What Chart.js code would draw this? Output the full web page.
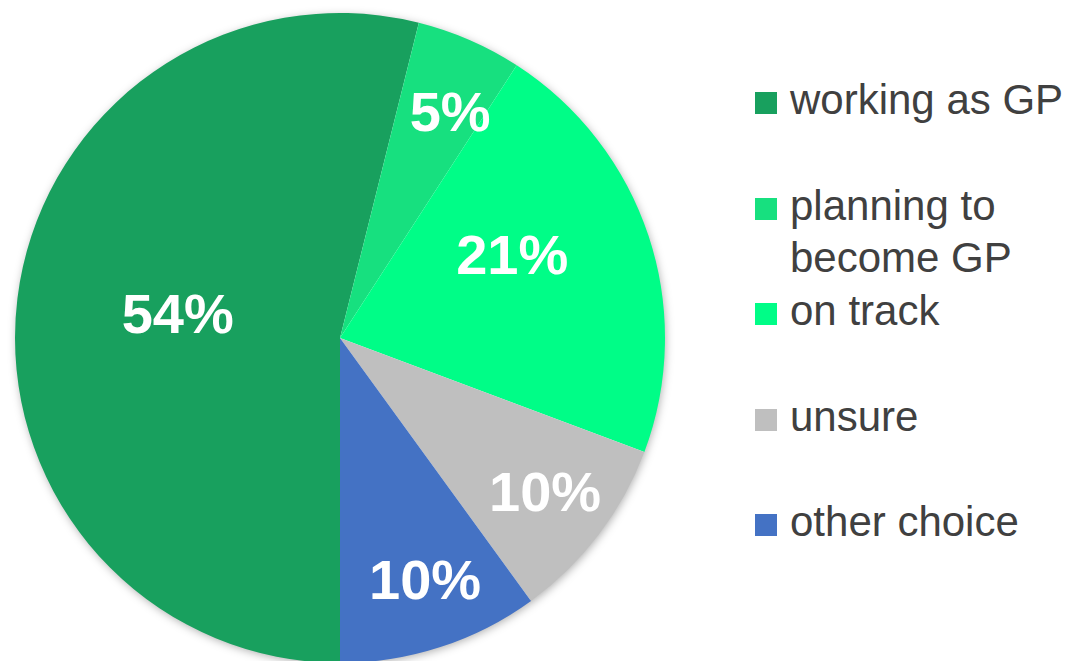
<!DOCTYPE html>
<html>
<head>
<meta charset="utf-8">
<script src="https://cdn.jsdelivr.net/npm/chart.js@4.4.1/dist/chart.umd.min.js"></script>
<style>
  html, body { margin: 0; padding: 0; background: #ffffff; overflow: hidden; width: 1088px; height: 661px; }
  #wrap { position: absolute; left: 0; top: 0; width: 680px; height: 676px; }
  #legend { position: absolute; left: 755px; top: 0; width: 330px; font-family: "Liberation Sans", Arial, sans-serif; font-size: 42px; line-height: 52.75px; color: #404040; }
  .item { position: absolute; left: 0; width: 330px; }
  .box { position: absolute; left: 0; width: 22px; height: 22px; }
  .txt { position: absolute; left: 35px; width: 285px; white-space: normal; }
</style>
</head>
<body>
<div id="wrap"><canvas id="c"></canvas></div>
<div id="legend"></div>
<script>
// ---- data ----
const categories = ['working as GP', 'planning to become GP', 'on track', 'unsure', 'other choice'];
const values = [53.9, 5.25, 21.55, 9.3, 10.0];
const valueLabels = ['54%', '5%', '21%', '10%', '10%'];
const colors = ['#18A05E', '#17E07F', '#00FD87', '#BFBFBF', '#4472C4'];

// legend rows: line index (52.75px per line) for each item
const legendLineIndex = [0, 2, 4, 6, 8];

const shadowPlugin = {
  id: 'pieShadow',
  beforeDatasetsDraw(chart) {
    const arc = chart.getDatasetMeta(0).data[0];
    if (!arc) return;
    const ctx = chart.ctx;
    ctx.save();
    ctx.shadowColor = 'rgba(0,0,0,0.35)';
    ctx.shadowBlur = 10;
    ctx.shadowOffsetX = 1;
    ctx.shadowOffsetY = 2;
    ctx.fillStyle = '#ffffff';
    ctx.beginPath();
    ctx.arc(arc.x, arc.y, arc.outerRadius - 1, 0, Math.PI * 2);
    ctx.fill();
    ctx.restore();
  }
};

const labelPlugin = {
  id: 'sliceLabels',
  afterDatasetsDraw(chart, args, opts) {
    const ctx = chart.ctx;
    const meta = chart.getDatasetMeta(0);
    ctx.save();
    ctx.font = 'bold 56px "Liberation Sans", Arial, sans-serif';
    ctx.fillStyle = '#ffffff';
    ctx.textAlign = 'center';
    ctx.textBaseline = 'middle';
    meta.data.forEach((arc, i) => {
      const mid = (arc.startAngle + arc.endAngle) / 2 + (opts.angleOffset[i] || 0) * Math.PI / 180;
      const r = arc.outerRadius * opts.radius[i];
      ctx.fillText(valueLabels[i], arc.x + Math.cos(mid) * r, arc.y + Math.sin(mid) * r);
    });
    ctx.restore();
  }
};

new Chart(document.getElementById('c'), {
  type: 'pie',
  data: {
    labels: categories,
    datasets: [{
      data: values,
      backgroundColor: colors,
      borderWidth: 0
    }]
  },
  options: {
    responsive: true,
    maintainAspectRatio: false,
    animation: false,
    rotation: 180,
    layout: { padding: { top: 13, bottom: 13, left: 15, right: 15 } },
    plugins: {
      legend: { display: false },
      tooltip: { enabled: false },
      sliceLabels: {
        radius: [0.503, 0.765, 0.584, 0.796, 0.80],
        angleOffset: [0, 2.8, -6.6, 0.3, -1.1]
      }
    }
  },
  plugins: [shadowPlugin, labelPlugin]
});

// HTML legend
const legend = document.getElementById('legend');
const firstTop = 74;
categories.forEach((name, i) => {
  const item = document.createElement('div');
  item.className = 'item';
  item.style.top = (firstTop + legendLineIndex[i] * 52.75) + 'px';
  const box = document.createElement('div');
  box.className = 'box';
  box.style.background = colors[i];
  box.style.top = '18px';
  const txt = document.createElement('div');
  txt.className = 'txt';
  txt.textContent = name;
  item.appendChild(box);
  item.appendChild(txt);
  legend.appendChild(item);
});
</script>
</body>
</html>
